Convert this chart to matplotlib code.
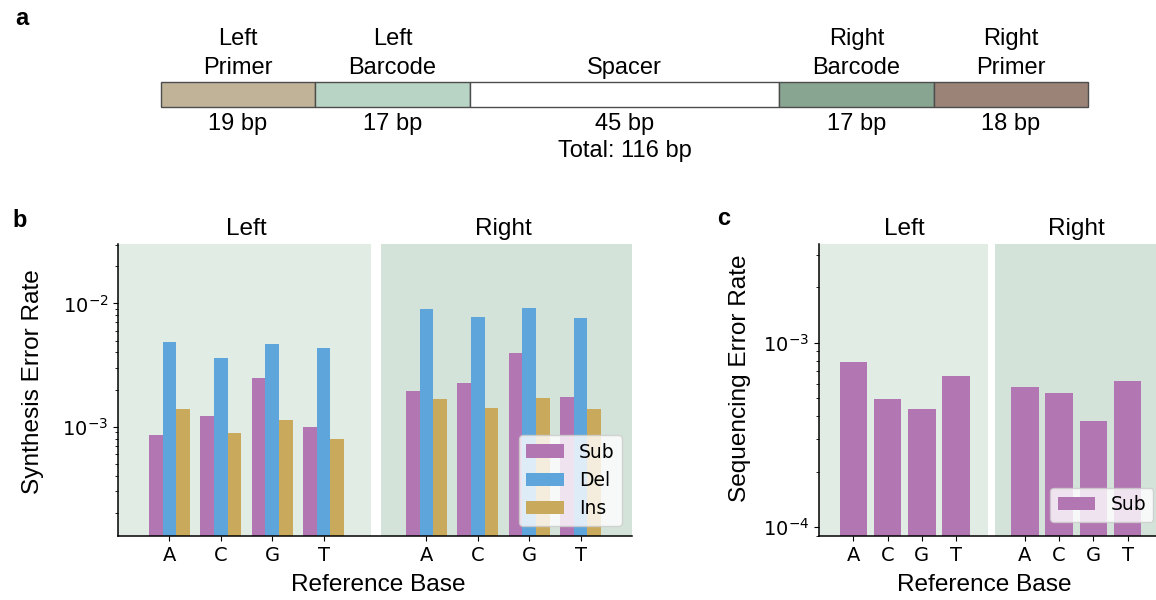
import numpy as np
import matplotlib
matplotlib.use('Agg')
import matplotlib.pyplot as plt
from matplotlib import transforms

plt.rcParams['font.family'] = 'DejaVu Sans'
plt.rcParams['xtick.labelsize'] = 14
plt.rcParams['ytick.labelsize'] = 14
plt.rcParams['axes.linewidth'] = 1.1
HEAD = 'Liberation Sans'   # arial-like face for labels/titles

# ---- panel a : construct layout
seg_names = ['Left\nPrimer', 'Left\nBarcode', 'Spacer', 'Right\nBarcode', 'Right\nPrimer']
seg_bp = [19, 17, 45, 17, 18]
seg_colors = ['#c1b398', '#b8d4c4', '#ffffff', '#88a592', '#9b8378']
seg_units = [1, 1, 2, 1, 1]    # drawn widths, not to scale

# ---- panel b : synthesis error rates
bases = ['A', 'C', 'G', 'T']
sides = ['Left', 'Right']
syn_sub = {'Left': [8.5e-4, 1.22e-3, 2.49e-3, 9.9e-4],
           'Right': [1.95e-3, 2.25e-3, 3.99e-3, 1.74e-3]}
syn_del = {'Left': [4.83e-3, 3.62e-3, 4.68e-3, 4.32e-3],
           'Right': [9.04e-3, 7.7e-3, 9.2e-3, 7.64e-3]}
syn_ins = {'Left': [1.38e-3, 8.9e-4, 1.14e-3, 7.9e-4],
           'Right': [1.67e-3, 1.43e-3, 1.71e-3, 1.40e-3]}

# ---- panel c : sequencing error rates
seq_sub = {'Left': [7.85e-4, 4.94e-4, 4.36e-4, 6.65e-4],
           'Right': [5.77e-4, 5.37e-4, 3.76e-4, 6.19e-4]}

c_sub = '#b276b2'
c_del = '#5da5da'
c_ins = '#c9a95c'
shade_cols = ['#e1ece4', '#d3e3da']

W, H = 1156, 600
fig = plt.figure(figsize=(W/100, H/100), dpi=100)

###===================================================================================
ax_a = fig.add_axes([160.7/W, (H-106.7)/H, 927.6/W, 25/H])
lefts = np.cumsum([0] + seg_units[:-1])
ax_a.barh(0.5, seg_units, left=lefts, height=1, color=seg_colors,
          edgecolor='#4d4d4d', lw=1.0, clip_on=False, align='center')
ax_a.set_xlim(0, sum(seg_units))
ax_a.set_ylim(0, 1)
ax_a.axis('off')
for i in range(len(seg_names)):
    xc = lefts[i] + seg_units[i]/2
    ax_a.text(xc, 1.116, seg_names[i], ha='center', va='bottom', fontsize=17,
              family=HEAD, linespacing=1.42)
    lab = '%d bp' % seg_bp[i]
    if seg_names[i] == 'Spacer':
        lab += '\nTotal: %d bp' % sum(seg_bp)
    ax_a.text(xc, -0.26, lab, ha='center', va='top', fontsize=17,
              family=HEAD, linespacing=1.3)

###===================================================================================
def decorate(ax, ylow, yhigh, ylabel, ylab_xy, xlab_x):
    ax.axvspan(-1, 3.92, color=shade_cols[0], lw=0, zorder=0)
    ax.axvspan(4.12, 9, color=shade_cols[1], lw=0, zorder=0)
    ax.set_yscale('log')
    ax.set_xlim(-1, 9)
    ax.set_ylim(ylow, yhigh)
    ax.set_xticks(list(range(4)) + list(range(5, 9)))
    ax.set_xticklabels(bases + bases)
    ax.spines['top'].set_visible(False)
    ax.spines['right'].set_visible(False)
    trans = transforms.blended_transform_factory(ax.transData, ax.transAxes)
    for k, s in enumerate(sides):
        ax.text(1.5 + 5*k, 1.031, s, transform=trans, ha='center', va='baseline',
                fontsize=17.6, family=HEAD)
    ax.set_ylabel(ylabel, fontsize=17.6, family=HEAD, va='center')
    ax.yaxis.set_label_coords(*ylab_xy)
    ax.set_xlabel('Reference Base', fontsize=17.6, family=HEAD, va='baseline')
    ax.xaxis.set_label_coords(xlab_x, -0.187)

ax_b = fig.add_axes([118/W, 64/H, 514/W, 292/H])
bw = 0.8/3
for k, s in enumerate(sides):
    x = np.arange(4) + 5*k
    ax_b.bar(x - bw, syn_sub[s], bw, color=c_sub, label='Sub' if k == 0 else None, zorder=2)
    ax_b.bar(x, syn_del[s], bw, color=c_del, label='Del' if k == 0 else None, zorder=2)
    ax_b.bar(x + bw, syn_ins[s], bw, color=c_ins, label='Ins' if k == 0 else None, zorder=2)
decorate(ax_b, 1.3e-4, 3.03e-2, 'Synthesis Error Rate', (-0.1654, 0.529), 0.507)
ax_b.legend(loc='lower right', bbox_to_anchor=(0.9805, 0.035), borderaxespad=0,
            fontsize=13.5)

ax_c = fig.add_axes([819/W, 64/H, 343/W, 292/H])
for k, s in enumerate(sides):
    x = np.arange(4) + 5*k
    ax_c.bar(x, seq_sub[s], 0.8, color=c_sub, label='Sub' if k == 0 else None, zorder=2)
decorate(ax_c, 8.97e-5, 3.44e-3, 'Sequencing Error Rate', (-0.2303, 0.541), 0.483)
ax_c.legend(loc='lower right', bbox_to_anchor=(0.975, 0.049), borderaxespad=0,
            fontsize=13.5)

for lab, px, py in [('a', 22, 25), ('b', 20, 226.7), ('c', 724, 225)]:
    fig.text(px/W, 1 - py/H, lab, ha='center', va='baseline', fontsize=17,
             weight='bold', family=HEAD)

fig.savefig('out.png', dpi=100)
